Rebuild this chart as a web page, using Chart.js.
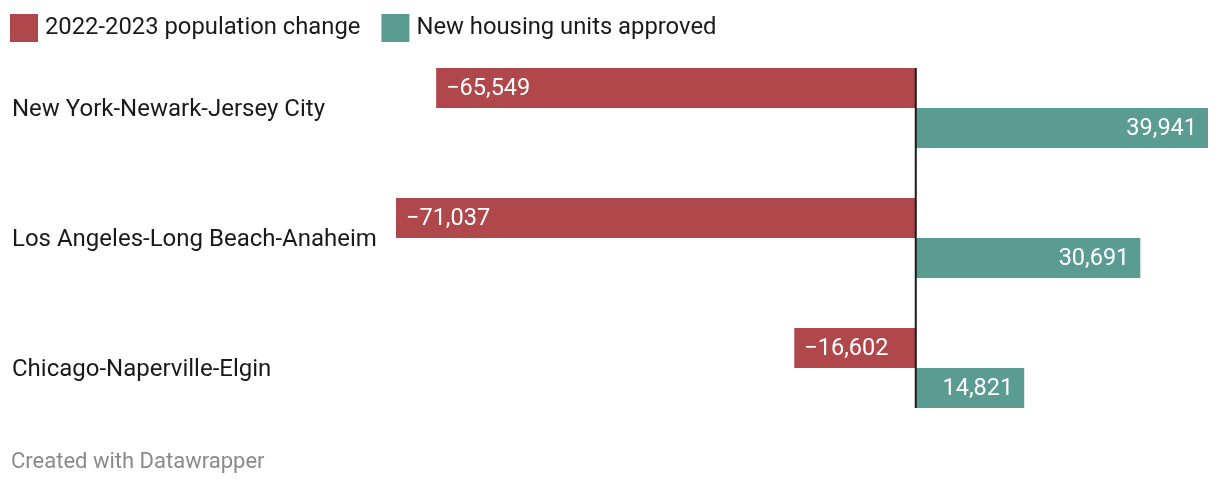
<!DOCTYPE html>
<html>
<head>
<meta charset="utf-8">
<script src="https://cdn.jsdelivr.net/npm/chart.js@4"></script>
<style>
  body { margin: 0; background: #fff; font-family: Roboto, sans-serif; }
  #wrap { position: relative; width: 1220px; height: 486px; }
  #foot { position: absolute; left: 11px; top: 448px; font-size: 22px; color: #8a8a8a; }
</style>
</head>
<body>
<div id="wrap">
  <canvas id="chart" width="1220" height="486"></canvas>
  <div id="foot">Created with Datawrapper</div>
</div>
<script>
const metros = ['New York-Newark-Jersey City', 'Los Angeles-Long Beach-Anaheim', 'Chicago-Naperville-Elgin'];
const popChange = [-65549, -71037, -16602];
const housing = [39941, 30691, 14821];
const seriesNames = ['2022-2023 population change', 'New housing units approved'];
const colors = ['#b0474b', '#5a9c92'];

const fmt = v => (v < 0 ? '\u2212' : '') + Math.abs(v).toLocaleString('en-US');

// legend, zero line and value labels
const extras = {
    id: 'extras',
    afterDatasetsDraw(chart) {
        const ctx = chart.ctx;
        ctx.save();
        ctx.font = '23.5px Roboto';
        ctx.textBaseline = 'middle';

        // value labels
        chart.data.datasets.forEach((ds, di) => {
            chart.getDatasetMeta(di).data.forEach((bar, i) => {
                const v = ds.data[i];
                ctx.fillStyle = '#fff';
                if (v < 0) {
                    ctx.textAlign = 'left';
                    ctx.fillText(fmt(v), bar.x + 10, bar.y + 1);
                } else {
                    ctx.textAlign = 'right';
                    ctx.fillText(fmt(v), bar.x - 11, bar.y + 1);
                }
            });
        });

        // zero line
        const x0 = chart.scales.x.getPixelForValue(0);
        const first = chart.getDatasetMeta(0).data[0];
        const last = chart.getDatasetMeta(1).data[metros.length - 1];
        ctx.strokeStyle = '#1a1a1a';
        ctx.lineWidth = 2;
        ctx.beginPath();
        ctx.moveTo(x0, first.y - first.height / 2);
        ctx.lineTo(x0, last.y + last.height / 2);
        ctx.stroke();

        // legend
        ctx.font = '23.8px Roboto';
        let lx = 10;
        ctx.textAlign = 'left';
        seriesNames.forEach((name, i) => {
            ctx.fillStyle = colors[i];
            ctx.fillRect(lx, 14, 28, 28);
            ctx.fillStyle = '#1a1a1a';
            ctx.fillText(name, lx + 35, 28);
            lx += 35 + ctx.measureText(name).width + 21;
        });
        ctx.restore();
    }
};

new Chart(document.getElementById('chart'), {
    type: 'bar',
    data: {
        labels: metros,
        datasets: [
            { label: seriesNames[0], data: popChange, backgroundColor: colors[0] },
            { label: seriesNames[1], data: housing, backgroundColor: colors[1] }
        ]
    },
    options: {
        indexAxis: 'y',
        responsive: false,
        animation: false,
        categoryPercentage: 80 / 130,
        barPercentage: 1,
        layout: { padding: { top: 43, bottom: 53, left: 12, right: 12 } },
        scales: {
            x: {
                display: false,
                min: Math.min(...popChange),
                max: Math.max(...housing)
            },
            y: {
                grid: { display: false },
                border: { display: false },
                ticks: {
                    crossAlign: 'far',
                    padding: 0,
                    labelOffset: 2,
                    color: '#1a1a1a',
                    font: { family: 'Roboto', size: 24 }
                },
                afterFit(scale) { scale.width = 384; }
            }
        },
        plugins: {
            legend: { display: false },
            tooltip: { enabled: false }
        }
    },
    plugins: [extras]
});
</script>
</body>
</html>
